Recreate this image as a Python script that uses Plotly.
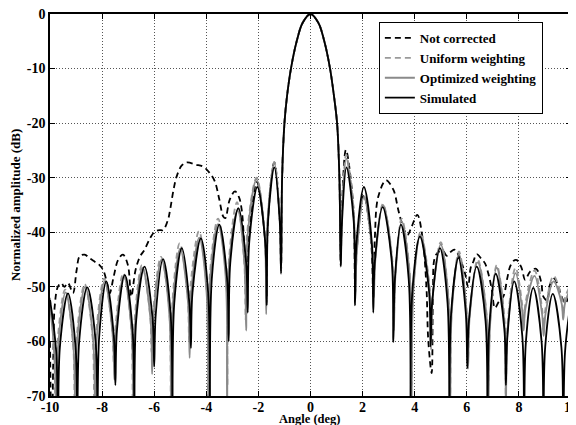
import plotly.graph_objects as go

# ---------------- data ----------------
X_TICKS = [-10, -8, -6, -4, -2, 0, 2, 4, 6, 8, 10]
Y_TICKS = [0, -10, -20, -30, -40, -50, -60, -70]

# main lobe, shared by all four curves
MAIN = [(-1.09, -30), (-1.0, -20), (-0.9, -15), (-0.75, -10), (-0.53, -5), (-0.3, -1.6),
        (0.0, 0.0), (0.3, -1.6), (0.53, -5), (0.75, -10), (0.9, -15), (1.02, -20), (1.11, -30)]

# Simulated (black solid)
SIM_LEFT = [(-10.0, -52.4), (-9.76, -62), (-9.69, -80), (-9.62, -61), (-9.31, -51.2), (-9.02, -61),
            (-8.95, -80), (-8.88, -60), (-8.57, -50.1), (-8.25, -60), (-8.18, -80), (-8.11, -59),
            (-7.84, -49.0), (-7.55, -59), (-7.49, -68), (-7.43, -58), (-7.13, -47.8), (-6.83, -58),
            (-6.76, -80), (-6.69, -56), (-6.37, -46.3), (-6.06, -56), (-6.0, -64.6), (-5.94, -55),
            (-5.66, -44.9), (-5.37, -55), (-5.3, -80), (-5.23, -53), (-4.94, -42.9), (-4.65, -53),
            (-4.59, -61.2), (-4.53, -51), (-4.21, -41.1), (-3.93, -51), (-3.86, -80), (-3.79, -48.6),
            (-3.5, -38.6), (-3.2, -48.6), (-3.14, -60), (-3.08, -45.6), (-2.77, -35.6), (-2.47, -45.6),
            (-2.41, -54.7), (-2.35, -41.7), (-2.04, -31.7), (-1.74, -41.7), (-1.68, -53.4), (-1.63, -38),
            (-1.39, -28.1), (-1.18, -38), (-1.13, -47.6)]
SIM_RIGHT = [(1.16, -46.3), (1.21, -38), (1.38, -28.1), (1.66, -38), (1.71, -53.4), (1.77, -41.7),
             (2.05, -31.7), (2.35, -41.7), (2.41, -54.7), (2.47, -45.4), (2.77, -35.4), (3.12, -45.4),
             (3.18, -60.1), (3.24, -48.6), (3.47, -38.6), (3.77, -48.6), (3.84, -80), (3.91, -50.8),
             (4.2, -40.8), (4.55, -50.8), (4.61, -60.9), (4.67, -52.9), (4.97, -42.9), (5.26, -52.9),
             (5.33, -80), (5.40, -54.7), (5.68, -44.7), (5.96, -54.7), (6.02, -64.9), (6.08, -56.3),
             (6.38, -46.3), (6.72, -56.3), (6.79, -80), (6.86, -57.6), (7.11, -47.6), (7.44, -57.6),
             (7.5, -68), (7.56, -59), (7.82, -49.0), (8.13, -59), (8.2, -80), (8.27, -60),
             (8.55, -50.2), (8.87, -60), (8.94, -80), (9.01, -61), (9.3, -51.3), (9.63, -61),
             (9.7, -80), (9.77, -62), (10.0, -52.4)]

# Optimized weighting (gray solid)
OPT_LEFT = [(-10.0, -53.5), (-9.82, -63), (-9.76, -80), (-9.69, -61), (-9.4, -51), (-9.1, -61),
            (-9.03, -80), (-8.96, -60), (-8.65, -50), (-8.34, -60), (-8.27, -80), (-8.2, -59),
            (-7.9, -49), (-7.59, -59), (-7.53, -67), (-7.47, -58), (-7.17, -48), (-6.87, -58),
            (-6.8, -80), (-6.73, -56.5), (-6.45, -46.5), (-6.14, -56), (-6.08, -66), (-6.02, -55),
            (-5.72, -45), (-5.42, -55), (-5.35, -80), (-5.28, -53), (-5.0, -43), (-4.7, -53),
            (-4.64, -63), (-4.58, -51), (-4.27, -41), (-3.99, -51), (-3.92, -80), (-3.85, -48.5),
            (-3.55, -38.5), (-3.26, -48), (-3.2, -80), (-3.13, -46), (-2.8, -36), (-2.53, -46),
            (-2.47, -58), (-2.41, -40.5), (-2.07, -30.3), (-1.76, -40.5), (-1.7, -55), (-1.64, -37.5),
            (-1.39, -27.3), (-1.18, -37.5), (-1.13, -47)]
OPT_RIGHT = [(1.16, -46), (1.21, -36.5), (1.37, -26.5), (1.66, -37), (1.72, -52), (1.78, -43.5),
             (2.05, -33.5), (2.37, -43.5), (2.43, -52), (2.49, -45), (2.78, -35), (3.13, -45),
             (3.2, -58), (3.26, -48), (3.5, -38), (3.81, -48), (3.88, -72), (3.95, -50.5),
             (4.22, -40.5), (4.57, -50.5), (4.63, -60), (4.69, -52), (5.0, -42.2), (5.29, -52),
             (5.36, -75), (5.43, -54), (5.7, -44), (5.98, -54), (6.05, -65), (6.11, -55.5),
             (6.42, -45.5), (6.76, -55.5), (6.83, -72), (6.9, -56.5), (7.15, -46.5), (7.44, -56.5),
             (7.5, -75), (7.57, -57.5), (7.87, -47.5), (8.12, -54), (8.18, -58), (8.25, -54),
             (8.6, -48), (8.89, -55), (8.95, -59), (9.02, -55), (9.33, -49), (9.64, -53),
             (9.7, -56), (9.77, -53), (10.0, -50)]

# Uniform weighting (gray dashed)
UNI_LEFT = [(-10.0, -52), (-9.84, -62), (-9.78, -80), (-9.71, -60), (-9.42, -50.5), (-9.12, -60),
            (-9.05, -75), (-8.98, -59.5), (-8.67, -49.5), (-8.37, -59), (-8.3, -72), (-8.23, -58.5),
            (-7.92, -48.5), (-7.61, -58), (-7.55, -64), (-7.49, -57.5), (-7.19, -47.5), (-6.89, -57),
            (-6.82, -72), (-6.75, -56), (-6.47, -46), (-6.16, -55), (-6.1, -62), (-6.04, -54.5),
            (-5.74, -44.5), (-5.43, -54), (-5.36, -72), (-5.29, -52), (-5.02, -42), (-4.72, -51.5),
            (-4.66, -60), (-4.6, -49.5), (-4.28, -39.8), (-4.0, -49.5), (-3.93, -72), (-3.86, -47.5),
            (-3.55, -37.5), (-3.25, -47), (-3.19, -68), (-3.13, -45), (-2.82, -34.5), (-2.55, -45),
            (-2.49, -56), (-2.43, -40), (-2.07, -30), (-1.76, -40), (-1.7, -53), (-1.64, -37.3),
            (-1.39, -27.1), (-1.18, -37), (-1.13, -46)]
UNI_RIGHT = [(1.16, -45.5), (1.21, -36), (1.37, -25.8), (1.66, -36.5), (1.72, -51), (1.78, -43.5),
             (2.05, -33.3), (2.37, -43), (2.43, -51), (2.49, -44.5), (2.78, -34.8), (3.13, -44.5),
             (3.2, -56), (3.26, -47.5), (3.5, -37.5), (3.81, -47.5), (3.88, -68), (3.95, -50),
             (4.22, -40), (4.57, -50), (4.63, -61.5), (4.69, -51.5), (5.0, -41.8), (5.29, -51.5),
             (5.36, -70), (5.43, -53.5), (5.7, -43.5), (5.98, -53.5), (6.05, -63), (6.11, -55),
             (6.42, -45), (6.76, -55), (6.83, -68), (6.9, -56), (7.15, -46), (7.44, -55.5),
             (7.5, -70), (7.57, -56.5), (7.87, -46.5), (8.12, -53), (8.18, -57), (8.25, -53),
             (8.6, -47), (8.89, -54), (8.95, -58), (9.02, -54), (9.33, -48), (9.64, -52),
             (9.7, -55), (9.77, -52), (10.0, -49.5)]

# Not corrected (black dashed)
NC_LEFT = [(-10.0, -60), (-9.93, -80), (-9.87, -62), (-9.82, -53.6), (-9.7, -50), (-9.57, -49.3),
           (-9.45, -50), (-9.31, -49.3), (-9.12, -51.1), (-8.98, -47), (-8.86, -44.4), (-8.67, -44.1),
           (-8.47, -44.8), (-8.28, -45.4), (-8.1, -46), (-7.96, -46.9), (-7.8, -49.5), (-7.71, -51.2),
           (-7.55, -48), (-7.38, -45), (-7.2, -44.1), (-7.01, -46), (-6.88, -51.8), (-6.72, -47),
           (-6.55, -44.5), (-6.37, -43.2), (-6.15, -41), (-5.98, -39.9), (-5.8, -39.6), (-5.66, -39.6),
           (-5.47, -37.7), (-5.39, -35.9), (-5.25, -32), (-5.14, -29.8), (-4.95, -27.8), (-4.75, -27.2),
           (-4.4, -27.6), (-4.11, -28), (-3.86, -29.2), (-3.67, -30.7), (-3.5, -34), (-3.35, -37.1),
           (-3.27, -37.4), (-3.1, -34), (-2.9, -32.5), (-2.75, -33.5), (-2.64, -35.9), (-2.53, -44),
           (-2.45, -54), (-2.37, -41), (-2.06, -30.8), (-1.75, -41), (-1.69, -53), (-1.63, -37.5),
           (-1.39, -27.2), (-1.18, -37.5), (-1.13, -47)]
NC_RIGHT = [(1.16, -46), (1.21, -35), (1.36, -24.9), (1.64, -35), (1.71, -50), (1.77, -42),
            (2.05, -33.2), (2.33, -42), (2.41, -52), (2.47, -41), (2.6, -33.5), (2.9, -30.5),
            (3.18, -32.2), (3.37, -35.9), (3.55, -39), (3.72, -40.5), (3.88, -39), (4.1, -36.8),
            (4.3, -41), (4.45, -50), (4.52, -59.7), (4.65, -65.8), (4.7, -52), (4.78, -44.5),
            (4.95, -43.5), (5.1, -43.5), (5.23, -44.3), (5.4, -43.5), (5.55, -43.2), (5.75, -45),
            (5.93, -47.5), (6.05, -50), (6.15, -46.5), (6.25, -45.4), (6.38, -44), (6.55, -44.8),
            (6.7, -45.7), (6.85, -48), (6.96, -50.5), (7.08, -53.9), (7.22, -52.8), (7.4, -51.8),
            (7.55, -48.5), (7.66, -46.3), (7.8, -45.2), (7.92, -45.1), (8.1, -46.5), (8.24, -48.7),
            (8.43, -47.2), (8.66, -46.7), (8.85, -49), (8.94, -51.8), (9.08, -52.5), (9.2, -49.5),
            (9.35, -48.5), (9.52, -50), (9.64, -51.8), (9.78, -53), (9.9, -52), (10.0, -51)]

SERIES_NAMES = ["Not corrected", "Uniform weighting", "Optimized weighting", "Simulated"]
X_TITLE = "Angle (deg)"
Y_TITLE = "Normalized amplitude (dB)"

# ---------------- figure ----------------
FONT = "Liberation Serif"
fig = go.Figure()

def add(pts, name, color, dash, width):
    xs = [p[0] for p in pts]
    ys = [p[1] for p in pts]
    fig.add_trace(go.Scatter(x=xs, y=ys, mode="lines", name=name,
                             line=dict(color=color, dash=dash, width=width,
                                       shape="spline", smoothing=1.0)))

add(NC_LEFT + MAIN + NC_RIGHT, SERIES_NAMES[0], "black", "6px,4px", 1.8)
add(UNI_LEFT + MAIN + UNI_RIGHT, SERIES_NAMES[1], "#9a9a9a", "6px,4px", 1.8)
add(OPT_LEFT + MAIN + OPT_RIGHT, SERIES_NAMES[2], "#8a8a8a", "solid", 1.8)
add(SIM_LEFT + MAIN + SIM_RIGHT, SERIES_NAMES[3], "black", "solid", 1.8)

axis_common = dict(showgrid=True, gridcolor="#555555", griddash="1px,2px", gridwidth=1,
                   showline=True, linecolor="black", linewidth=1.5, mirror="ticks",
                   ticks="inside", ticklen=5, tickcolor="black", zeroline=False,
                   automargin=False, ticklabeloverflow="allow",
                   tickfont=dict(family=FONT, size=14, color="black", weight="bold"))

fig.update_xaxes(range=[-10, 10], tickvals=X_TICKS,
                 ticktext=[str(v) for v in X_TICKS], ticklabelstandoff=-3, **axis_common)
fig.update_yaxes(range=[-70, 0], tickvals=Y_TICKS,
                 ticktext=[str(v) for v in Y_TICKS], **axis_common)

# the page body adds an 8px offset; the figure is sized so the plot area
# lands at the reference position (left 50, top 14, right 571, bottom 396)
fig.update_layout(
    width=568, height=417,
    margin=dict(l=42, r=5, t=6, b=29, autoexpand=False),
    paper_bgcolor="white", plot_bgcolor="white",
    font=dict(family=FONT, size=13, color="black", weight="bold"),
    showlegend=True,
    legend=dict(x=0.946, y=0.979, xanchor="right", yanchor="top",
                bgcolor="white", bordercolor="black", borderwidth=1,
                font=dict(family=FONT, size=13, color="black", weight="bold"),
                itemwidth=30, tracegroupgap=0),
    annotations=[
        dict(text=X_TITLE, xref="paper", yref="paper", x=0.499, y=-0.061,
             xanchor="center", yanchor="middle", showarrow=False,
             font=dict(family=FONT, size=12.5, color="black", weight="bold")),
        dict(text=Y_TITLE, xref="paper", yref="paper", x=-0.067, y=0.5,
             xanchor="center", yanchor="middle", showarrow=False, textangle=-90,
             font=dict(family=FONT, size=13, color="black", weight="bold")),
    ],
)

fig.write_html("out.html")
